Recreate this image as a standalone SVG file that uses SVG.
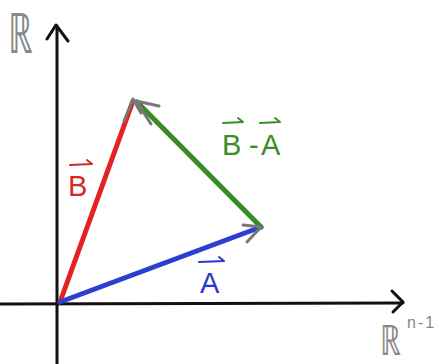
<svg xmlns="http://www.w3.org/2000/svg" width="442" height="364" viewBox="0 0 442 364">
<style>
.axis{stroke:#111;stroke-width:3;fill:none;stroke-linecap:round;stroke-linejoin:round}
.head{stroke:#777;stroke-width:3;fill:none;stroke-linecap:round;stroke-linejoin:round}
.vec{stroke-width:5;fill:none;stroke-linecap:round}
.lbl{font-family:"Liberation Sans",Arial,sans-serif;font-size:29px}
.hook{fill:none;stroke-width:2;stroke-linecap:round;stroke-linejoin:round}
.set{font-family:"DejaVu Sans",sans-serif;fill:#888;font-weight:300}
</style>
<rect width="442" height="364" fill="#fff"/>
<g id="axes">
<line class="axis" x1="57" y1="364" x2="57" y2="26"/>
<polyline class="axis" points="47,39 56,25 68,41"/>
<line class="axis" x1="0" y1="304" x2="403" y2="303"/>
<polyline class="axis" points="392,291 403,302 393,312"/>
</g>
<g id="connectors">
<line class="vec" stroke="#e32222" x1="60" y1="302" x2="133" y2="101"/>
<line class="vec" stroke="#2c3fcf" x1="60" y1="302" x2="261" y2="227"/>
<line class="vec" stroke="#3a8a26" x1="261" y1="227" x2="137" y2="102"/>
<polyline class="head" points="124,121 133,99 141,113"/>
<polyline class="head" points="159,106 136,101 151,124"/>
<polyline class="head" points="243,225 261,227 247,242"/>
</g>
<g id="label-R">
<text class="set" x="8" y="53" font-size="56" transform="translate(8 0) scale(0.62 1) translate(-8 0)">ℝ</text>
</g>
<g id="label-Rn">
<text class="set" x="380" y="355" font-size="42" transform="translate(380 0) scale(0.7 1) translate(-380 0)">ℝ</text>
<text x="407" y="328" font-family="Liberation Sans,Arial,sans-serif" font-size="16" letter-spacing="2" fill="#888">n-1</text>
</g>
<g id="label-B">
<text class="lbl" x="68" y="196" fill="#d42a2a">B</text>
<polyline class="hook" stroke="#d42a2a" points="70,165 92,164 87,160"/>
</g>
<g id="label-BA">
<text class="lbl" x="222" y="155" fill="#3c8c28">B</text>
<text class="lbl" x="249" y="155" fill="#3c8c28">-</text>
<text class="lbl" x="261" y="155" fill="#3c8c28">A</text>
<polyline class="hook" stroke="#3c8c28" points="223,123 243,122 238,118"/>
<polyline class="hook" stroke="#3c8c28" points="260,123 280,122 275,118"/>
</g>
<g id="label-A">
<text class="lbl" x="200" y="293" fill="#2a3ad0">A</text>
<polyline class="hook" stroke="#2a3ad0" points="199,262 224,261 219,257"/>
</g>
</svg>
